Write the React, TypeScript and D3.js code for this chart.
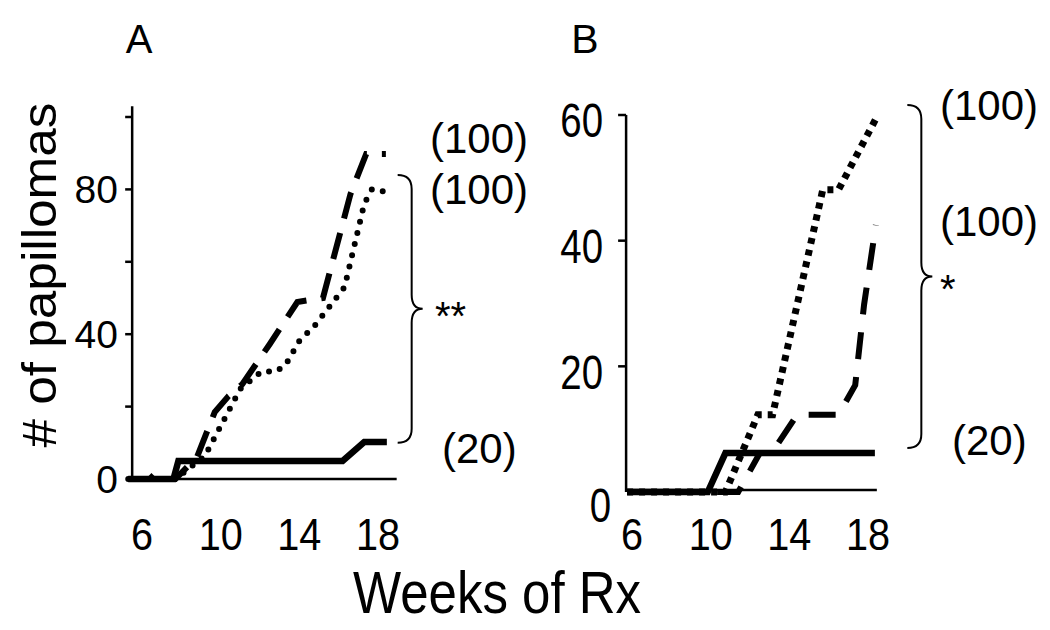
import React from "react";
import * as d3 from "d3";

// ---------- DATA ----------
const xTicks = [6, 10, 14, 18];
const yTicksA = [20, 40, 60, 80, 100];
const yTickLabelsA = [0, 40, 80];
const yTicksB = [20, 40, 60];
const yTickLabelsB = [0, 20, 40, 60];

// Panel A (weeks, # papillomas)
const aSolidWeeks = [5.3, 7.6, 7.85, 16.2, 17.3, 18.45];
const aSolidVals = [0, 0, 5, 5, 10.2, 10.2];
const aDashWeeks = [5.3, 6.4, 6.7, 7.0, 7.7, 8.8, 9.7, 10.4, 11.1, 12.5, 13.9, 15.2, 16.6, 17.4, 18.4];
const aDashVals = [0, 0, 1.7, 0, 0, 6.1, 18.5, 22.9, 26.2, 37.3, 48.9, 50.0, 78.7, 89.8, 89.8];
const aDotWeeks = [5.3, 7.7, 9.2, 11.0, 12.1, 12.8, 13.3, 14.0, 14.8, 16.3, 17.3, 17.7, 18.4];
const aDotVals = [0, 0, 6.4, 24.9, 29.8, 29.6, 31.5, 38.1, 42.5, 53.0, 76.0, 80.1, 79.3];

// Panel B
const bSolidWeeks = [5.75, 9.85, 10.75, 18.35];
const bSolidVals = [0, 0, 6.2, 6.2];
const bDashWeeks = [5.75, 11.4, 12.5, 13.1, 14.4, 16.5, 17.35, 17.8, 18.4];
const bDashVals = [0, 0, 6.2, 6.2, 12.3, 12.3, 17.0, 29.8, 42.5];
const bDotWeeks = [5.75, 10.75, 12.4, 13.15, 15.7, 16.5, 18.5];
const bDotVals = [0, 0, 12.3, 12.3, 48.1, 48.1, 60];

const labelsA = ["(100)", "(100)", "(20)"];
const labelsB = ["(100)", "(100)", "(20)"];

const FONT = "'Liberation Sans', Arial, Helvetica, sans-serif";

const xA = d3.scaleLinear().domain([6, 18]).range([142, 378]);
const yA = d3.scaleLinear().domain([0, 100]).range([479, 117]);
const xB = d3.scaleLinear().domain([6, 18]).range([632, 868]);
const yB = d3.scaleLinear().domain([0, 60]).range([492, 115]);

function pts(ws: number[], vs: number[]) {
  return ws.map((w, i) => [w, vs[i]] as [number, number]);
}

function brace(xl: number, yt: number, yb: number) {
  const xv = xl + 14;
  const xt = xl + 25;
  const ym = (yt + yb) / 2;
  return `M${xl},${yt} Q${xv},${yt} ${xv},${yt + 14} L${xv},${ym - 14} Q${xv},${ym} ${xt},${ym} Q${xv},${ym} ${xv},${ym + 14} L${xv},${yb - 14} Q${xv},${yb} ${xl},${yb}`;
}

export default function App() {
  const lineA = d3.line<[number, number]>().x((d) => xA(d[0])).y((d) => yA(d[1]));
  const lineB = d3.line<[number, number]>().x((d) => xB(d[0])).y((d) => yB(d[1]));

  return (
    <svg
      width={1050}
      height={630}
      style={{ position: "absolute", left: 0, top: 0, background: "#fff" }}
      fontFamily={FONT}
    >
      <rect width={1050} height={630} fill="#fff" />
      {/* Titles */}
      <text x={139} y={53} fontSize={40} textAnchor="middle">A</text>
      <text x={585} y={53} fontSize={41} textAnchor="middle">B</text>
      <text
        transform="translate(56,275) rotate(-90)"
        fontSize={48}
        textAnchor="middle"
        textLength={345}
        lengthAdjust="spacingAndGlyphs"
      >
        # of papillomas
      </text>
      <text transform="translate(497,613) scale(0.85,1)" fontSize={60} textAnchor="middle">
        Weeks of Rx
      </text>

      {/* ---------- Panel A ---------- */}
      <line x1={xA(5.5)} x2={xA(5.5)} y1={yA(0)} y2={yA(103)} stroke="#000" strokeWidth={2.5} />
      {yTicksA.map((t) => (
        <line key={t} x1={xA(5.5) - 7} x2={xA(5.5)} y1={yA(t)} y2={yA(t)} stroke="#000" strokeWidth={2.5} />
      ))}
      {yTickLabelsA.map((t) => (
        <text key={t} x={118} y={yA(t)} dy="0.36em" fontSize={39} textAnchor="end">{t}</text>
      ))}
      <line x1={xA(5.3)} x2={xA(18.95)} y1={yA(0)} y2={yA(0)} stroke="#000" strokeWidth={2.5} />
      {xTicks.map((t) => (
        <text key={t} transform={`translate(${xA(t)},550) scale(0.9,1)`} fontSize={44} textAnchor="middle">{t}</text>
      ))}
      <path d={lineA(pts(aSolidWeeks, aSolidVals)) || ""} fill="none" stroke="#000" strokeWidth={6.5} strokeLinejoin="miter" />
      <path d={lineA(pts(aDashWeeks, aDashVals)) || ""} fill="none" stroke="#000" strokeWidth={6} strokeDasharray="27 15" />
      <path d={lineA(pts(aDotWeeks, aDotVals)) || ""} fill="none" stroke="#000" strokeWidth={6} strokeDasharray="0 11.5" strokeLinecap="round" />
      <path d={brace(xA(19), yA(84), yA(10))} fill="none" stroke="#000" strokeWidth={2} />
      <text x={430} y={153} fontSize={42}>{labelsA[0]}</text>
      <text x={430} y={204} fontSize={42}>{labelsA[1]}</text>
      <text x={442} y={463} fontSize={42}>{labelsA[2]}</text>
      <text x={435} y={330} fontSize={40}>**</text>

      {/* ---------- Panel B ---------- */}
      <line x1={xB(5.7)} x2={xB(5.7)} y1={yB(0)} y2={yB(60)} stroke="#000" strokeWidth={2.5} />
      {yTicksB.map((t) => (
        <line key={t} x1={xB(5.7) - 8} x2={xB(5.7)} y1={yB(t)} y2={yB(t)} stroke="#000" strokeWidth={2.5} />
      ))}
      {yTickLabelsB.map((t) => (
        <text
          key={t}
          transform={`translate(${t === 0 ? 611 : 603},${yB(t) + (t === 0 ? 13 : 5)}) scale(0.8,1)`}
          dy="0.36em"
          fontSize={48}
          textAnchor="end"
        >
          {t}
        </text>
      ))}
      <line x1={xB(5.75)} x2={xB(18.45)} y1={yB(0.3)} y2={yB(0.3)} stroke="#000" strokeWidth={2.5} />
      {xTicks.map((t) => (
        <text key={t} transform={`translate(${xB(t)},550) scale(0.9,1)`} fontSize={44} textAnchor="middle">{t}</text>
      ))}
      <path d={lineB(pts(bSolidWeeks, bSolidVals)) || ""} fill="none" stroke="#000" strokeWidth={6.5} />
      <path d={lineB(pts(bDashWeeks, bDashVals)) || ""} fill="none" stroke="#000" strokeWidth={6} strokeDasharray="27 18" />
      <path d={lineB(pts(bDotWeeks, bDotVals)) || ""} fill="none" stroke="#000" strokeWidth={7} strokeDasharray="6 6" />
      <path d={brace(xB(20), yB(61.6), yB(7))} fill="none" stroke="#000" strokeWidth={2} />
      <text x={940} y={120} fontSize={42}>{labelsB[0]}</text>
      <text x={940} y={236} fontSize={42}>{labelsB[1]}</text>
      <text x={952} y={455} fontSize={42}>{labelsB[2]}</text>
      <text x={940} y={303} fontSize={40}>*</text>
    </svg>
  );
}
